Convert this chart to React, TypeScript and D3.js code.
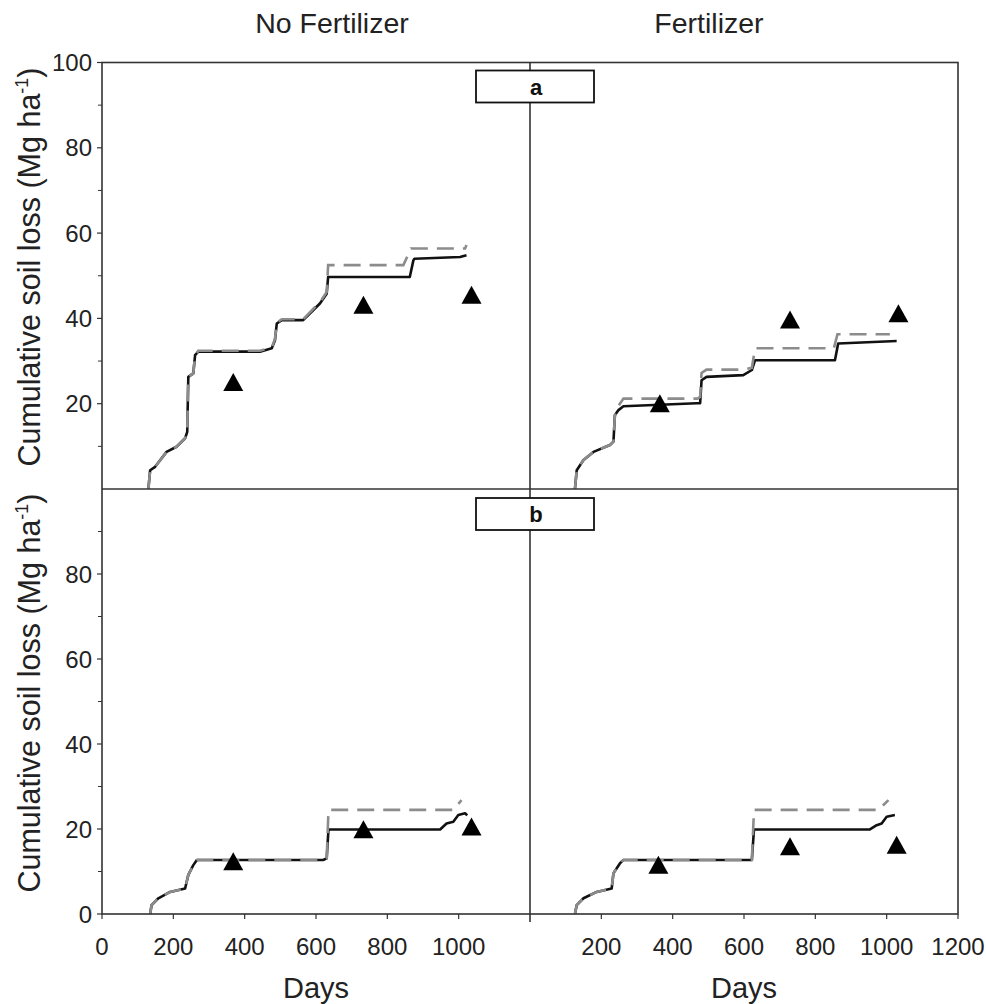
import React, { useEffect } from "react";
import * as d3 from "d3";

// ---- Data (days, cumulative soil loss Mg/ha) ----
const topNoFertSolid: [number, number][] = [
  [130, 0], [135, 4.4], [149, 5.2], [181, 8.7], [209, 9.9], [233, 11.9], [239, 13.4],
  [242, 26.3], [256, 27.1], [261, 31.4], [270, 32.2], [443, 32.2], [476, 33],
  [485, 34.9], [490, 38.8], [504, 39.6], [564, 39.6], [592, 41.9], [611, 43.5],
  [630, 45.8], [634, 49.7], [863, 49.7], [873, 53.6], [876, 54], [1004, 54.4], [1022, 54.8],
];
const topNoFertDashed: [number, number][] = [
  [130, 0], [135, 4.4], [149, 5.2], [181, 8.7], [209, 9.9], [233, 11.9], [239, 13.4],
  [242, 26.3], [256, 27.1], [261, 31.4], [270, 32.4], [443, 32.4], [476, 33.2],
  [485, 35.2], [490, 39], [504, 39.8], [564, 39.8], [592, 42.2], [611, 43.8],
  [630, 46.2], [634, 52.5], [845, 52.5], [866, 56.4], [1018, 56.4], [1022, 57.2],
];
const topNoFertObs: [number, number][] = [[368, 25], [733, 43.1], [1036, 45.4]];

const topFertSolid: [number, number][] = [
  [126, 0], [131, 4.4], [150, 6.8], [178, 8.7], [224, 10.3], [234, 11.1], [238, 17.3],
  [248, 18.5], [262, 19.4], [467, 20.1], [477, 20.1], [481, 25.5], [495, 26.3],
  [598, 26.7], [622, 27.9], [631, 30.2], [855, 30.2], [864, 34.1], [1028, 34.7],
];
const topFertDashed: [number, number][] = [
  [126, 0], [131, 4.4], [150, 6.8], [178, 8.7], [224, 10.3], [234, 11.1], [238, 17.3],
  [248, 19.5], [262, 21.2], [470, 21.2], [477, 21.6], [481, 27.2], [495, 28],
  [598, 28], [622, 28.4], [631, 33], [852, 33], [862, 36.3], [1009, 36.3],
];
const topFertObs: [number, number][] = [[364, 20], [729, 39.6], [1033, 41.1]];

const botNoFertSolid: [number, number][] = [
  [135, 0], [139, 2.1], [158, 3.7], [191, 5.2], [233, 6], [242, 9.2], [256, 11.5],
  [266, 12.7], [620, 12.7], [630, 13.1], [635, 19.9], [948, 19.9], [966, 21.3],
  [985, 21.7], [999, 23.3], [1018, 23.7], [1024, 23.2],
];
const botNoFertDashed: [number, number][] = [
  [135, 0], [139, 2.1], [158, 3.7], [191, 5.2], [233, 6], [242, 9.2], [256, 11.5],
  [266, 12.7], [620, 12.7], [630, 13.1], [635, 24.5], [985, 24.5], [1008, 26.8],
];
const botNoFertObs: [number, number][] = [[368, 12.3], [733, 19.8], [1036, 20.5]];

const botFertSolid: [number, number][] = [
  [126, 0], [131, 2.1], [150, 3.7], [187, 5.2], [229, 6], [234, 9.6], [252, 11.9],
  [262, 12.7], [622, 12.7], [628, 19.9], [953, 19.9], [972, 20.9], [986, 21.3],
  [1000, 22.9], [1023, 23.3],
];
const botFertDashed: [number, number][] = [
  [126, 0], [131, 2.1], [150, 3.7], [187, 5.2], [229, 6], [234, 9.6], [252, 11.9],
  [262, 12.7], [622, 12.7], [628, 24.5], [977, 24.5], [1005, 26.8],
];
const botFertObs: [number, number][] = [[360, 11.5], [729, 15.8], [1028, 16.2]];

const columnTitles = ["No Fertilizer", "Fertilizer"];
const panelLetters = ["a", "b"];
const topYTicks = [20, 40, 60, 80, 100];
const botYTicks = [0, 20, 40, 60, 80];
const minorYTicks = [10, 30, 50, 70, 90];
const leftXTicks = [0, 200, 400, 600, 800, 1000];
const rightXTicks = [200, 400, 600, 800, 1000, 1200];
const xLabel = "Days";
const yLabel = "Cumulative soil loss (Mg ha";

const FONT = "'Liberation Sans', Arial, Helvetica, sans-serif";

export default function App() {
  useEffect(() => {
    document.body.style.margin = "0";
  }, []);

  const L = 102, M = 530, R = 958, T = 62.5, H = 489, B = 914;
  const xL = d3.scaleLinear().domain([0, 1200]).range([L, M]);
  const xR = d3.scaleLinear().domain([0, 1200]).range([M, R]);
  const yT = d3.scaleLinear().domain([0, 100]).range([H, T]);
  const yB = d3.scaleLinear().domain([0, 100]).range([B, H]);

  const panels = [
    { x: xL, y: yT, solid: topNoFertSolid, dashed: topNoFertDashed, obs: topNoFertObs },
    { x: xR, y: yT, solid: topFertSolid, dashed: topFertDashed, obs: topFertObs },
    { x: xL, y: yB, solid: botNoFertSolid, dashed: botNoFertDashed, obs: botNoFertObs },
    { x: xR, y: yB, solid: botFertSolid, dashed: botFertDashed, obs: botFertObs },
  ];

  const tri = (cx: number, cy: number) => {
    const w = 10, h = 17;
    return `M${cx},${cy - h / 2 - 1}L${cx + w},${cy + h / 2}L${cx - w},${cy + h / 2}Z`;
  };

  const axisColor = "#333";

  return (
    <svg width={986} height={1004} style={{ position: "absolute", left: 0, top: 0, background: "#fff" }}
      fontFamily={FONT}>
      <rect x={0} y={0} width={986} height={1004} fill="#fff" />
      {/* column titles */}
      <text x={332} y={33} fontSize={28.5} textAnchor="middle" fill="#222">{columnTitles[0]}</text>
      <text x={709} y={33} fontSize={28.5} textAnchor="middle" fill="#222">{columnTitles[1]}</text>

      {/* series */}
      {panels.map((p, i) => {
        const line = d3.line<[number, number]>().x((d) => p.x(d[0])).y((d) => p.y(d[1]));
        return (
          <g key={i}>
            <path d={line(p.solid) || ""} fill="none" stroke="#111" strokeWidth={2.6} strokeLinejoin="round" />
            <path d={line(p.dashed) || ""} fill="none" stroke="#8c8c8c" strokeWidth={2.6}
              strokeDasharray="17,9" />
            {p.obs.map((o, j) => (
              <path key={j} d={tri(p.x(o[0]), p.y(o[1]))} fill="#000" />
            ))}
          </g>
        );
      })}

      {/* frame and dividers */}
      <rect x={L} y={T} width={R - L} height={B - T} fill="none" stroke={axisColor} strokeWidth={1.6} />
      <line x1={M} x2={M} y1={T} y2={B + 8} stroke={axisColor} strokeWidth={1.6} />
      <line x1={L} x2={R} y1={H} y2={H} stroke={axisColor} strokeWidth={1.6} />

      {/* panel letter boxes */}
      {[yT, yB].map((ys, i) => (
        <g key={i}>
          <rect x={476} y={ys(100) + (i === 0 ? 8 : 9)} width={118} height={32} fill="#fff" stroke="#111" strokeWidth={1.8} />
          <text x={536} y={ys(100) + (i === 0 ? 8 : 9) + 24} fontSize={22} fontWeight="bold" textAnchor="middle" fill="#111">
            {panelLetters[i]}
          </text>
        </g>
      ))}

      {/* y ticks and labels */}
      {topYTicks.map((t) => (
        <g key={"t" + t}>
          <line x1={L - 5} x2={L} y1={yT(t)} y2={yT(t)} stroke={axisColor} strokeWidth={1.2} />
          <text x={92} y={yT(t) + 8.5} fontSize={24} textAnchor="end" fill="#222">{t}</text>
        </g>
      ))}
      {botYTicks.map((t) => (
        <g key={"b" + t}>
          <line x1={L - 5} x2={L} y1={yB(t)} y2={yB(t)} stroke={axisColor} strokeWidth={1.2} />
          <text x={92} y={yB(t) + 8.5} fontSize={24} textAnchor="end" fill="#222">{t}</text>
        </g>
      ))}
      {minorYTicks.map((t) => (
        <g key={"m" + t}>
          <line x1={L - 4} x2={L} y1={yT(t)} y2={yT(t)} stroke={axisColor} strokeWidth={1} />
          <line x1={L - 4} x2={L} y1={yB(t)} y2={yB(t)} stroke={axisColor} strokeWidth={1} />
        </g>
      ))}

      {/* x ticks and labels */}
      {leftXTicks.map((t) => (
        <g key={"lx" + t}>
          <line x1={xL(t)} x2={xL(t)} y1={B} y2={B + 5} stroke={axisColor} strokeWidth={1.2} />
          <text x={xL(t)} y={955} fontSize={24} textAnchor="middle" fill="#222">{t}</text>
        </g>
      ))}
      {rightXTicks.map((t) => (
        <g key={"rx" + t}>
          <line x1={xR(t)} x2={xR(t)} y1={B} y2={B + 5} stroke={axisColor} strokeWidth={1.2} />
          <text x={xR(t)} y={955} fontSize={24} textAnchor="middle" fill="#222">{t}</text>
        </g>
      ))}

      {/* axis titles */}
      <text x={(L + M) / 2} y={998} fontSize={29} textAnchor="middle" fill="#222">{xLabel}</text>
      <text x={(M + R) / 2} y={998} fontSize={29} textAnchor="middle" fill="#222">{xLabel}</text>
      {[267, 693].map((cy, i) => (
        <text key={i} transform={`translate(40,${cy}) rotate(-90)`} fontSize={30.5} textAnchor="middle" fill="#222">
          {yLabel}
          <tspan fontSize={18} dy={-12}>-1</tspan>
          <tspan dy={12}>)</tspan>
        </text>
      ))}
    </svg>
  );
}
